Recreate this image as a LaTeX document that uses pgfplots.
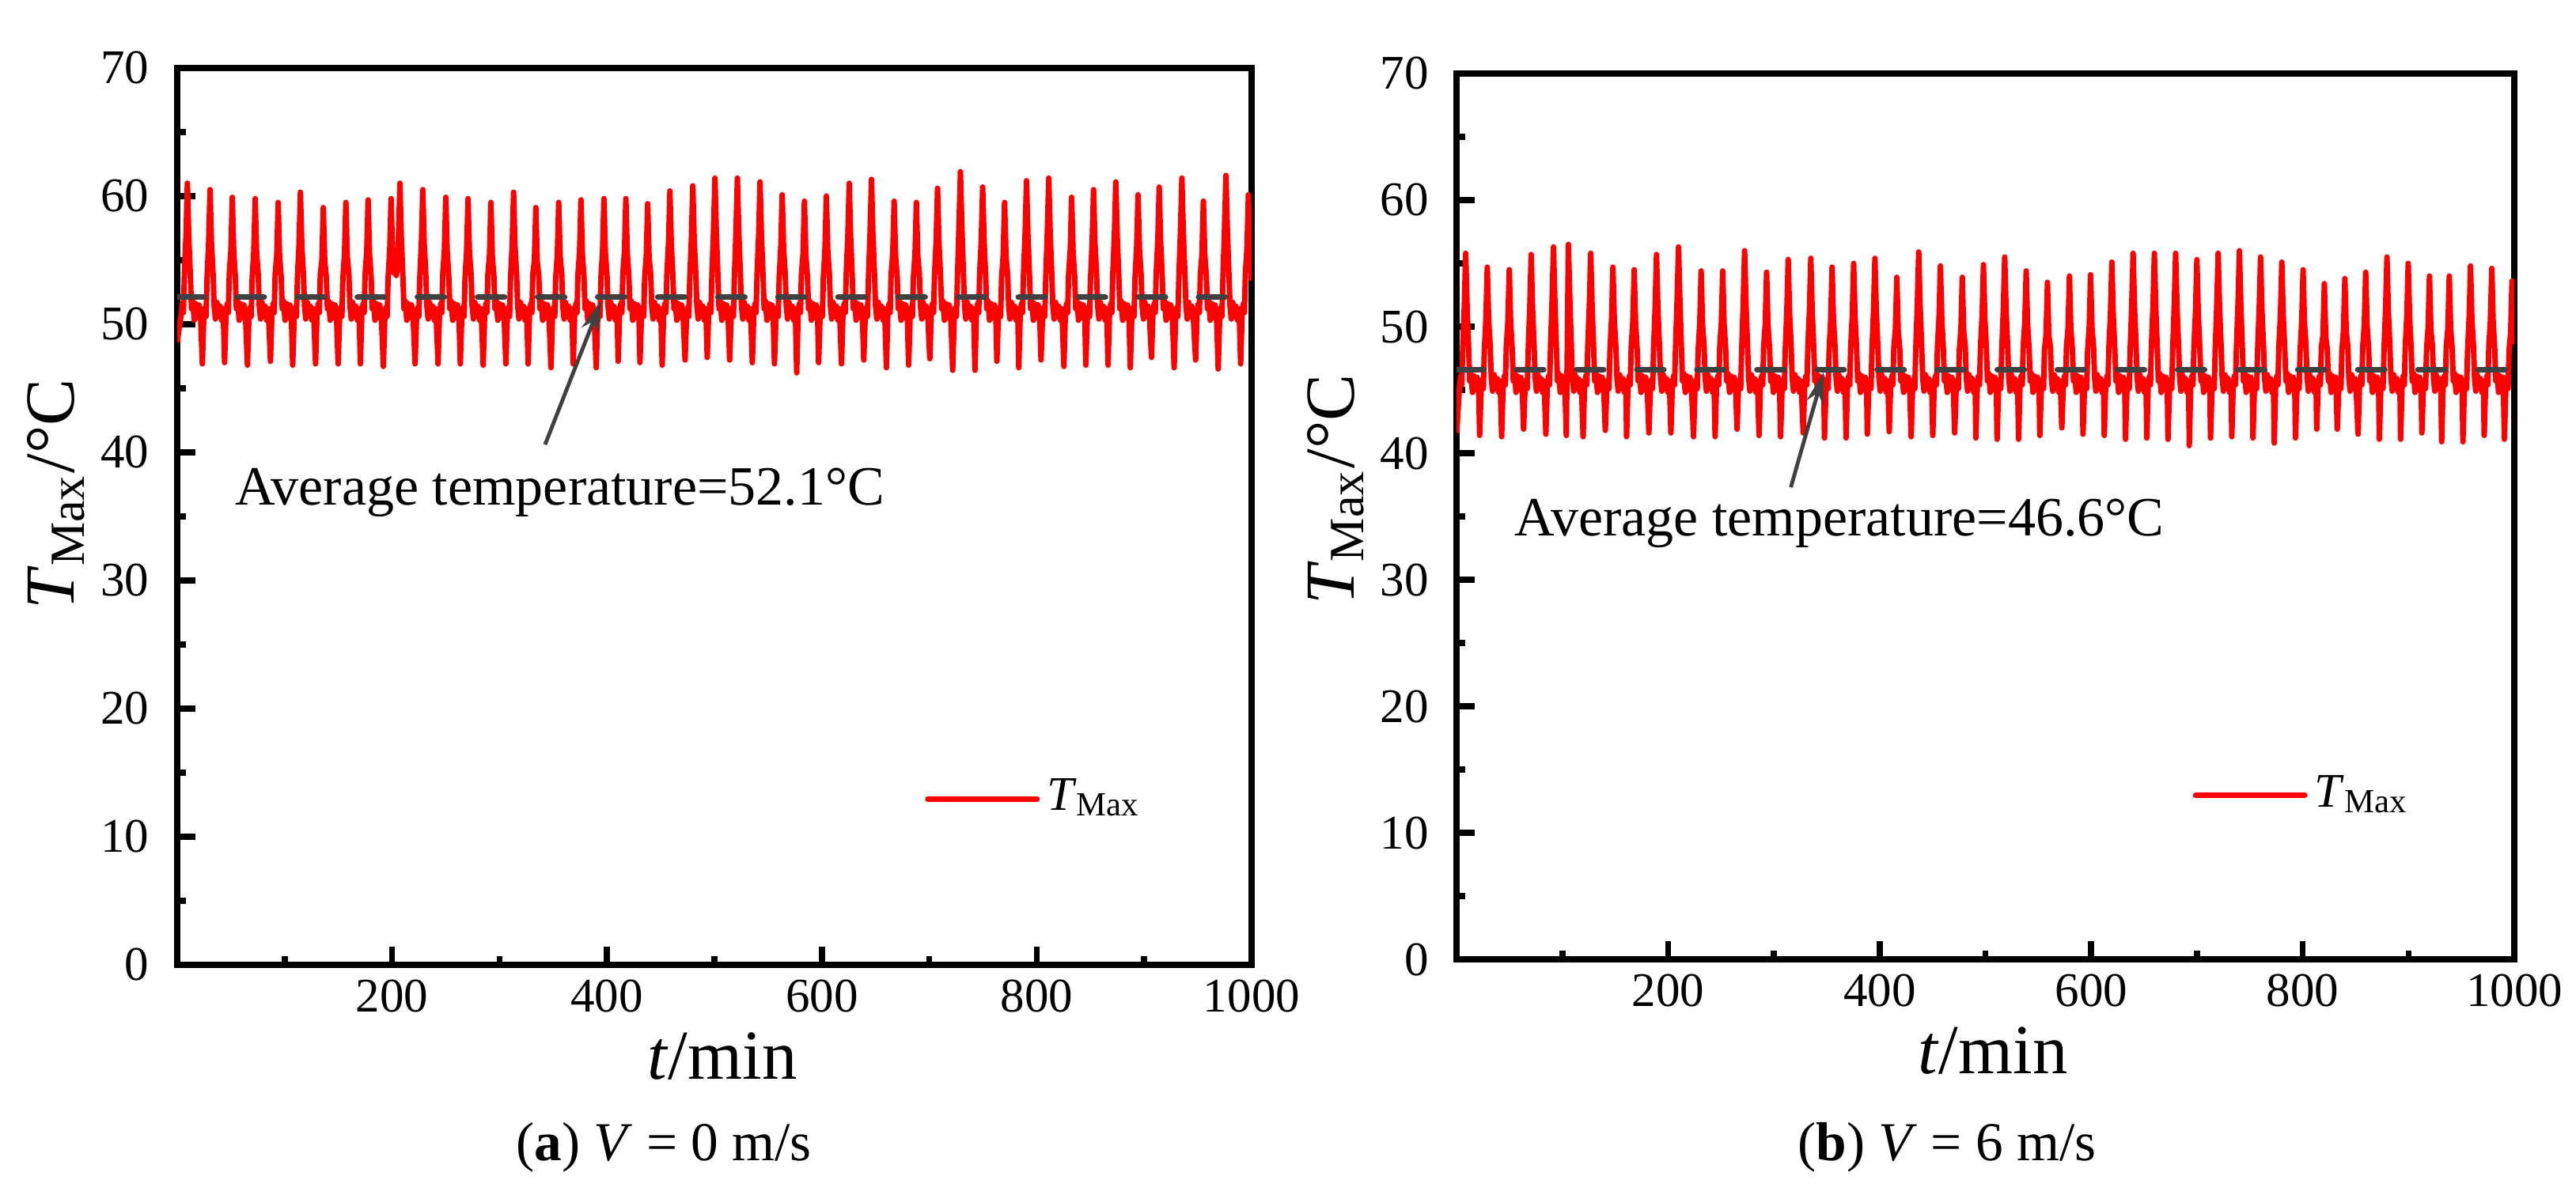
\documentclass[border=0pt]{standalone}
\usepackage{fontspec}
\setmainfont{Liberation Serif}
\usepackage{pgfplots}
\pgfplotsset{compat=1.18}
\usetikzlibrary{arrows.meta}
\definecolor{avgray}{RGB}{64,64,64}
\newcommand{\tickfont}{\fontsize{8.8}{10}\selectfont}
\newcommand{\annfont}{\fontsize{10.1}{12}\selectfont}
\newcommand{\labfont}{\fontsize{12.8}{15}\selectfont}
\newcommand{\capfont}{\fontsize{10}{12}\selectfont}
\tikzset{
 tline/.style={color=red, line width=1.0pt, line join=round},
 avline/.style={color=avgray, line width=1.05pt, line cap=round, dash pattern=on 4.9pt off 6.05pt},
 annarrow/.style={-{Stealth[length=5.8pt,width=3.2pt]}, color=avgray, line width=0.7pt},
}
\pgfplotsset{
 myax/.style={
  scale only axis, xmin=0, xmax=1000, ymin=0, ymax=70,
  xtick={200,400,600,800,1000}, minor xtick={100,300,500,700,900},
  ytick={0,10,...,70}, minor ytick={5,15,...,65},
  xtick pos=bottom, ytick pos=left, tick align=inside,
  major tick length=0.117cm, minor tick length=0.056cm,
  tick style={black, line width=1.1pt},
  axis line style={line width=1.15pt},
  tick label style={font=\tickfont},
  /pgf/number format/assume math mode=true,
  /pgf/number format/1000 sep={},
  yticklabel style={xshift=-1.6pt},
  xticklabel style={yshift=0.8pt},
  legend style={draw=none, fill=none, anchor=west, inner xsep=0pt, inner ysep=0pt,
    font=\tickfont, nodes={inner sep=1.3pt}},
  legend image code/.code={\draw[#1, line cap=round] (0cm,0cm) -- (0.70cm,0cm);},
 },
}
\begin{document}
\begin{tikzpicture}
\path[use as bounding box] (0,0) rectangle (16.5,7.652);
\begin{axis}[myax, at={(1.135cm,1.470cm)}, anchor=south west, width=6.882cm, height=5.747cm,
  legend style={at={(0.695,0.185)}}]
\addplot[tline] coordinates {
(0,48.6) (3.6,50.7) (4.8,51.6) (5.8,50.9) (6.7,53.9) (8.2,56.9) (9.5,61.0)
(10.8,56.8) (12.3,53.7) (13.3,51.2) (14.5,51.8) (15.9,50.3) (17.3,51.6) (18.8,50.5) (20.3,51.5) (21.7,50.8)
(23.4,46.9) (24.7,50.4) (25.9,51.3) (26.9,50.6) (27.8,53.6) (29.3,56.4) (30.6,60.5)
(31.9,56.3) (33.4,53.9) (34.4,51.4) (35.6,50.4) (37.0,51.7) (38.4,50.6) (39.9,51.4) (41.4,50.3) (42.8,51.2)
(44.1,47.0) (45.4,50.7) (46.6,51.6) (47.6,50.9) (48.5,53.9) (50.0,55.8) (51.3,59.9)
(52.6,55.7) (54.1,53.7) (55.1,51.2) (56.3,51.8) (57.7,50.3) (59.1,51.6) (60.6,50.5) (62.1,51.5) (63.5,50.8)
(65.4,46.8) (66.7,50.4) (67.9,51.3) (68.9,50.6) (69.8,53.6) (71.3,55.7) (72.6,59.8)
(73.9,55.6) (75.4,53.9) (76.4,51.4) (77.6,50.4) (79.0,51.7) (80.4,50.6) (81.9,51.4) (83.4,50.3) (84.8,51.2)
(86.8,47.1) (88.1,50.7) (89.3,51.6) (90.3,50.9) (91.2,53.9) (92.7,55.4) (94.0,59.5)
(95.3,55.3) (96.8,53.7) (97.8,51.2) (99.0,51.8) (100.4,50.3) (101.8,51.6) (103.3,50.5) (104.8,51.5) (106.2,50.8)
(107.5,46.8) (108.8,50.4) (110.0,51.3) (111.0,50.6) (111.9,53.6) (113.4,56.2) (114.7,60.3)
(116.0,56.1) (117.5,53.9) (118.5,51.4) (119.7,50.4) (121.1,51.7) (122.5,50.6) (124.0,51.4) (125.5,50.3) (126.9,51.2)
(128.8,46.9) (130.1,50.7) (131.3,51.6) (132.3,50.9) (133.2,53.9) (134.7,55.0) (136.0,59.1)
(137.3,54.9) (138.8,53.7) (139.8,51.2) (141.0,51.8) (142.4,50.3) (143.8,51.6) (145.3,50.5) (146.8,51.5) (148.2,50.8)
(149.8,46.9) (151.1,50.4) (152.3,51.3) (153.3,50.6) (154.2,53.6) (155.7,55.4) (157.0,59.5)
(158.3,55.3) (159.8,53.9) (160.8,51.4) (162.0,50.4) (163.4,51.7) (164.8,50.6) (166.3,51.4) (167.8,50.3) (169.2,51.2)
(170.5,46.9) (171.8,50.7) (173.0,51.6) (174.0,50.9) (174.9,53.9) (176.4,55.6) (177.7,59.7)
(179.0,55.5) (180.5,53.7) (181.5,51.2) (182.7,51.8) (184.1,50.3) (185.5,51.6) (187.0,50.5) (188.5,51.5) (189.9,50.8)
(191.9,46.7) (193.2,50.4) (194.4,51.3) (195.4,50.6) (196.3,53.6) (197.8,55.7) (199.1,59.8)
(200.4,55.6) (201.6,54.0) (202.8,54.6) (203.9,53.8) (205.0,54.4) (206.0,56.9) (207.3,61.0)
(208.6,56.8) (210.1,53.7) (211.1,51.2) (212.3,51.8) (213.7,50.3) (215.1,51.6) (216.6,50.5) (218.1,51.5) (219.5,50.8)
(221.4,46.9) (222.7,50.4) (223.9,51.3) (224.9,50.6) (225.8,53.6) (227.3,56.4) (228.6,60.5)
(229.9,56.3) (231.4,53.9) (232.4,51.4) (233.6,50.4) (235.0,51.7) (236.4,50.6) (237.9,51.4) (239.4,50.3) (240.8,51.2)
(242.8,46.9) (244.1,50.7) (245.3,51.6) (246.3,50.9) (247.2,53.9) (248.7,55.8) (250.0,59.9)
(251.3,55.7) (252.8,53.7) (253.8,51.2) (255.0,51.8) (256.4,50.3) (257.8,51.6) (259.3,50.5) (260.8,51.5) (262.2,50.8)
(263.5,46.9) (264.8,50.4) (266.0,51.3) (267.0,50.6) (267.9,53.6) (269.4,55.7) (270.7,59.8)
(272.0,55.6) (273.5,53.9) (274.5,51.4) (275.7,50.4) (277.1,51.7) (278.5,50.6) (280.0,51.4) (281.5,50.3) (282.9,51.2)
(284.8,46.8) (286.1,50.7) (287.3,51.6) (288.3,50.9) (289.2,53.9) (290.7,55.4) (292.0,59.5)
(293.3,55.3) (294.8,53.7) (295.8,51.2) (297.0,51.8) (298.4,50.3) (299.8,51.6) (301.3,50.5) (302.8,51.5) (304.2,50.8)
(305.9,46.9) (307.2,50.4) (308.4,51.3) (309.4,50.6) (310.3,53.6) (311.8,56.2) (313.1,60.3)
(314.4,56.1) (315.9,53.9) (316.9,51.4) (318.1,50.4) (319.5,51.7) (320.9,50.6) (322.4,51.4) (323.9,50.3) (325.3,51.2)
(326.6,46.9) (327.9,50.7) (329.1,51.6) (330.1,50.9) (331.0,53.9) (332.5,55.0) (333.8,59.1)
(335.1,54.9) (336.6,53.7) (337.6,51.2) (338.8,51.8) (340.2,50.3) (341.6,51.6) (343.1,50.5) (344.6,51.5) (346.0,50.8)
(347.9,46.6) (349.2,50.4) (350.4,51.3) (351.4,50.6) (352.3,53.6) (353.8,55.4) (355.1,59.5)
(356.4,55.3) (357.9,53.9) (358.9,51.4) (360.1,50.4) (361.5,51.7) (362.9,50.6) (364.4,51.4) (365.9,50.3) (367.3,51.2)
(368.6,46.9) (369.9,50.7) (371.1,51.6) (372.1,50.9) (373.0,53.9) (374.5,55.6) (375.8,59.7)
(377.1,55.5) (378.6,53.7) (379.6,51.2) (380.8,51.8) (382.2,50.3) (383.6,51.6) (385.1,50.5) (386.6,51.5) (388.0,50.8)
(390.0,46.6) (391.3,50.4) (392.5,51.3) (393.5,50.6) (394.4,53.6) (395.9,55.7) (397.2,59.8)
(398.5,55.6) (400.0,53.9) (401.0,51.4) (402.2,50.4) (403.6,51.7) (405.0,50.6) (406.5,51.4) (408.0,50.3) (409.4,51.2)
(410.4,47.1) (411.7,50.7) (412.9,51.6) (413.9,50.9) (414.8,53.9) (416.3,55.7) (417.6,59.8)
(418.9,55.6) (420.4,53.7) (421.4,51.2) (422.6,51.8) (424.0,50.3) (425.4,51.6) (426.9,50.5) (428.4,51.5) (429.8,50.8)
(430.7,47.0) (432.0,50.4) (433.2,51.3) (434.2,50.6) (435.1,53.6) (436.6,55.3) (437.9,59.4)
(439.2,55.2) (440.7,53.9) (441.7,51.4) (442.9,50.4) (444.3,51.7) (445.7,50.6) (447.2,51.4) (448.7,50.3) (450.1,51.2)
(451.4,46.8) (452.7,50.7) (453.9,51.6) (454.9,50.9) (455.8,53.9) (457.3,56.3) (458.6,60.4)
(459.9,56.2) (461.4,53.7) (462.4,51.2) (463.6,51.8) (465.0,50.3) (466.4,51.6) (467.9,50.5) (469.4,51.5) (470.8,50.8)
(472.7,47.2) (474.0,50.4) (475.2,51.3) (476.2,50.6) (477.1,53.6) (478.6,56.7) (479.9,60.8)
(481.2,56.6) (482.7,53.9) (483.7,51.4) (484.9,50.4) (486.3,51.7) (487.7,50.6) (489.2,51.4) (490.7,50.3) (492.1,51.2)
(493.3,47.4) (494.6,50.7) (495.8,51.6) (496.8,50.9) (497.7,53.9) (499.2,57.3) (500.5,61.4)
(501.8,57.2) (503.3,53.7) (504.3,51.2) (505.5,51.8) (506.9,50.3) (508.3,51.6) (509.8,50.5) (511.3,51.5) (512.7,50.8)
(514.2,47.2) (515.5,50.4) (516.7,51.3) (517.7,50.6) (518.6,53.6) (520.1,57.3) (521.4,61.4)
(522.7,57.2) (524.2,53.9) (525.2,51.4) (526.4,50.4) (527.8,51.7) (529.2,50.6) (530.7,51.4) (532.2,50.3) (533.6,51.2)
(535.3,47.0) (536.6,50.7) (537.8,51.6) (538.8,50.9) (539.7,53.9) (541.2,57.0) (542.5,61.1)
(543.8,56.9) (545.3,53.7) (546.3,51.2) (547.5,51.8) (548.9,50.3) (550.3,51.6) (551.8,50.5) (553.3,51.5) (554.7,50.8)
(555.9,46.9) (557.2,50.4) (558.4,51.3) (559.4,50.6) (560.3,53.6) (561.8,56.0) (563.1,60.1)
(564.4,55.9) (565.9,53.9) (566.9,51.4) (568.1,50.4) (569.5,51.7) (570.9,50.6) (572.4,51.4) (573.9,50.3) (575.3,51.2)
(576.6,46.2) (577.9,50.7) (579.1,51.6) (580.1,50.9) (581.0,53.9) (582.5,55.5) (583.8,59.6)
(585.1,55.4) (586.6,53.7) (587.6,51.2) (588.8,51.8) (590.2,50.3) (591.6,51.6) (593.1,50.5) (594.6,51.5) (596.0,50.8)
(597.0,47.0) (598.3,50.4) (599.5,51.3) (600.5,50.6) (601.4,53.6) (602.9,55.9) (604.2,60.0)
(605.5,55.8) (607.0,53.9) (608.0,51.4) (609.2,50.4) (610.6,51.7) (612.0,50.6) (613.5,51.4) (615.0,50.3) (616.4,51.2)
(618.3,46.9) (619.6,50.7) (620.8,51.6) (621.8,50.9) (622.7,53.9) (624.2,56.9) (625.5,61.0)
(626.8,56.8) (628.3,53.7) (629.3,51.2) (630.5,51.8) (631.9,50.3) (633.3,51.6) (634.8,50.5) (636.3,51.5) (637.7,50.8)
(639.0,47.2) (640.3,50.4) (641.5,51.3) (642.5,50.6) (643.4,53.6) (644.9,57.2) (646.2,61.3)
(647.5,57.1) (649.0,53.9) (650.0,51.4) (651.2,50.4) (652.6,51.7) (654.0,50.6) (655.5,51.4) (657.0,50.3) (658.4,51.2)
(660.1,46.6) (661.4,50.7) (662.6,51.6) (663.6,50.9) (664.5,53.9) (666.0,55.5) (667.3,59.6)
(668.6,55.4) (670.1,53.7) (671.1,51.2) (672.3,51.8) (673.7,50.3) (675.1,51.6) (676.6,50.5) (678.1,51.5) (679.5,50.8)
(680.8,46.8) (682.1,50.4) (683.3,51.3) (684.3,50.6) (685.2,53.6) (686.7,55.4) (688.0,59.5)
(689.3,55.3) (690.8,53.9) (691.8,51.4) (693.0,50.4) (694.4,51.7) (695.8,50.6) (697.3,51.4) (698.8,50.3)
(700.5,47.3) (701.8,50.7) (703.0,51.6) (704.0,50.9) (704.9,53.9) (706.4,56.5) (707.7,60.6)
(709.0,56.4) (710.5,53.7) (711.5,51.2) (712.7,51.8) (714.1,50.3) (715.5,51.6) (717.0,50.5) (718.5,51.5) (719.9,50.8)
(721.8,46.4) (723.1,50.4) (724.3,51.3) (725.3,50.6) (726.2,53.6) (727.7,57.8) (729.0,61.9)
(730.3,57.7) (731.8,53.9) (732.8,51.4) (734.0,50.4) (735.4,51.7) (736.8,50.6) (738.3,51.4) (739.8,50.3) (741.2,51.2)
(742.5,46.4) (743.8,50.7) (745.0,51.6) (746.0,50.9) (746.9,53.9) (748.4,56.6) (749.7,60.7)
(751.0,56.5) (752.5,53.7) (753.5,51.2) (754.7,51.8) (756.1,50.3) (757.5,51.6) (759.0,50.5) (760.5,51.5) (761.9,50.8)
(762.9,47.1) (764.2,50.4) (765.4,51.3) (766.4,50.6) (767.3,53.6) (768.8,55.4) (770.1,59.5)
(771.4,55.3) (772.9,53.9) (773.9,51.4) (775.1,50.4) (776.5,51.7) (777.9,50.6) (779.4,51.4) (780.9,50.3) (782.3,51.2)
(783.3,46.6) (784.6,50.7) (785.8,51.6) (786.8,50.9) (787.7,53.9) (789.2,57.1) (790.5,61.2)
(791.8,57.0) (793.3,53.7) (794.3,51.2) (795.5,51.8) (796.9,50.3) (798.3,51.6) (799.8,50.5) (801.3,51.5) (802.7,50.8)
(804.0,47.2) (805.3,50.4) (806.5,51.3) (807.5,50.6) (808.4,53.6) (809.9,57.3) (811.2,61.4)
(812.5,57.2) (814.0,53.9) (815.0,51.4) (816.2,50.4) (817.6,51.7) (819.0,50.6) (820.5,51.4) (822.0,50.3) (823.4,51.2)
(825.3,46.7) (826.6,50.7) (827.8,51.6) (828.8,50.9) (829.7,53.9) (831.2,55.8) (832.5,59.9)
(833.8,55.7) (835.3,53.7) (836.3,51.2) (837.5,51.8) (838.9,50.3) (840.3,51.6) (841.8,50.5) (843.3,51.5) (844.7,50.8)
(845.7,46.8) (847.0,50.4) (848.2,51.3) (849.2,50.6) (850.1,53.6) (851.6,56.4) (852.9,60.5)
(854.2,56.3) (855.7,53.9) (856.7,51.4) (857.9,50.4) (859.3,51.7) (860.7,50.6) (862.2,51.4) (863.7,50.3) (865.1,51.2)
(866.4,46.8) (867.7,50.7) (868.9,51.6) (869.9,50.9) (870.8,53.9) (872.3,57.0) (873.6,61.1)
(874.9,56.9) (876.4,53.7) (877.4,51.2) (878.6,51.8) (880.0,50.3) (881.4,51.6) (882.9,50.5) (884.4,51.5) (885.8,50.8)
(887.1,46.6) (888.4,50.4) (889.6,51.3) (890.6,50.6) (891.5,53.6) (893.0,56.0) (894.3,60.1)
(895.6,55.9) (897.1,53.9) (898.1,51.4) (899.3,50.4) (900.7,51.7) (902.1,50.6) (903.6,51.4) (905.1,50.3)
(906.8,47.4) (908.1,50.7) (909.3,51.6) (910.3,50.9) (911.2,53.9) (912.7,56.6) (914.0,60.7)
(915.3,56.5) (916.8,53.7) (917.8,51.2) (919.0,51.8) (920.4,50.3) (921.8,51.6) (923.3,50.5) (924.8,51.5) (926.2,50.8)
(927.9,46.6) (929.2,50.4) (930.4,51.3) (931.4,50.6) (932.3,53.6) (933.8,57.3) (935.1,61.4)
(936.4,57.2) (937.9,53.9) (938.9,51.4) (940.1,50.4) (941.5,51.7) (942.9,50.6) (944.4,51.4) (945.9,50.3)
(947.9,47.2) (949.2,50.7) (950.4,51.6) (951.4,50.9) (952.3,53.9) (953.8,55.5) (955.1,59.6)
(956.4,55.4) (957.9,53.7) (958.9,51.2) (960.1,51.8) (961.5,50.3) (962.9,51.6) (964.4,50.5) (965.9,51.5) (967.3,50.8)
(968.9,46.5) (970.2,50.4) (971.4,51.3) (972.4,50.6) (973.3,53.6) (974.8,57.5) (976.1,61.6)
(977.4,57.4) (978.9,53.9) (979.9,51.4) (981.1,50.4) (982.5,51.7) (983.9,50.6) (985.4,51.4) (986.9,50.3) (988.3,51.2)
(989.8,46.9) (991.1,50.7) (992.3,51.6) (993.3,50.9) (994.2,53.9) (995.7,56.0) (997.0,60.1)
(998.3,55.9) (1000,53.4)
};
\addlegendentry{\textit{T}\textsubscript{Max}}
\addplot[avline, forget plot] coordinates {(0,52.1) (1000,52.1)};
\draw[annarrow] (axis cs:342.4,40.6) -- (axis cs:394.7,51.8);
\node[anchor=base west, inner sep=0pt, font=\annfont] at (axis cs:53,35.9) {Average temperature=52.1°C};
\end{axis}

\begin{axis}[myax, at={(9.330cm,1.505cm)}, anchor=south west, width=6.775cm, height=5.676cm,
  legend style={at={(0.695,0.185)}}]
\addplot[tline] coordinates {
(0,41.6) (2.7,45.2) (3.9,46.1) (4.9,45.4) (5.8,48.4) (7.3,51.7) (8.6,55.8)
(9.9,51.6) (11.4,48.2) (12.4,45.7) (13.6,46.3) (15.0,44.8) (16.4,46.1) (17.9,45.0) (19.4,46.0) (20.8,45.3)
(21.8,41.4) (23.1,44.9) (24.3,45.8) (25.3,45.1) (26.2,48.1) (27.7,50.6) (29.0,54.7)
(30.3,50.5) (31.8,48.4) (32.8,45.9) (34.0,44.9) (35.4,46.2) (36.8,45.1) (38.3,45.9) (39.8,44.8) (41.2,45.7)
(42.6,41.3) (43.9,45.2) (45.1,46.1) (46.1,45.4) (47.0,48.4) (48.5,50.4) (49.8,54.5)
(51.1,50.3) (52.6,48.2) (53.6,45.7) (54.8,46.3) (56.2,44.8) (57.6,46.1) (59.1,45.0) (60.6,46.0) (62.0,45.3)
(63.3,41.9) (64.6,44.9) (65.8,45.8) (66.8,45.1) (67.7,48.1) (69.2,51.6) (70.5,55.7)
(71.8,51.5) (73.3,48.4) (74.3,45.9) (75.5,44.9) (76.9,46.2) (78.3,45.1) (79.8,45.9) (81.3,44.8) (82.7,45.7)
(84.4,41.5) (85.7,45.2) (86.9,46.1) (87.9,45.4) (88.8,48.4) (90.3,52.2) (91.6,56.3)
(92.9,52.1) (94.4,48.2) (95.4,45.7) (96.6,46.3) (98.0,44.8) (99.4,46.1) (100.9,45.0) (102.3,45.6) (103.7,41.4) (104.6,48.0) (105.0,51.5) (105.7,56.5)
(107.0,52.3) (108.5,48.4) (109.5,45.9) (110.7,44.9) (112.1,46.2) (113.5,45.1) (115.0,45.9) (116.5,44.8) (117.9,45.7)
(119.6,41.3) (120.9,45.2) (122.1,46.1) (123.1,45.4) (124.0,48.4) (125.5,51.7) (126.8,55.8)
(128.1,51.6) (129.6,48.2) (130.6,45.7) (131.8,46.3) (133.2,44.8) (134.6,46.1) (136.1,45.0) (137.6,46.0) (139.0,45.3)
(140.6,41.8) (141.9,44.9) (143.1,45.8) (144.1,45.1) (145.0,48.1) (146.5,50.6) (147.8,54.7)
(149.1,50.5) (150.6,48.4) (151.6,45.9) (152.8,44.9) (154.2,46.2) (155.6,45.1) (157.1,45.9) (158.6,44.8) (160.0,45.7)
(160.7,41.3) (162.0,45.2) (163.2,46.1) (164.2,45.4) (165.1,48.4) (166.6,50.4) (167.9,54.5)
(169.2,50.3) (170.7,48.2) (171.7,45.7) (172.9,46.3) (174.3,44.8) (175.7,46.1) (177.2,45.0) (178.7,46.0) (180.1,45.3)
(181.8,41.6) (183.1,44.9) (184.3,45.8) (185.3,45.1) (186.2,48.1) (187.7,51.6) (189.0,55.7)
(190.3,51.5) (191.8,48.4) (192.8,45.9) (194.0,44.9) (195.4,46.2) (196.8,45.1) (198.3,45.9) (199.8,44.8) (201.2,45.7)
(202.6,41.6) (203.9,45.2) (205.1,46.1) (206.1,45.4) (207.0,48.4) (208.5,52.2) (209.8,56.3)
(211.1,52.1) (212.6,48.2) (213.6,45.7) (214.8,46.3) (216.2,44.8) (217.6,46.1) (219.1,45.0) (220.6,46.0) (222.0,45.3)
(224.0,41.3) (225.3,44.9) (226.5,45.8) (227.5,45.1) (228.4,48.1) (229.9,50.3) (231.2,54.4)
(232.5,50.2) (234.0,48.4) (235.0,45.9) (236.2,44.9) (237.6,46.2) (239.0,45.1) (240.5,45.9) (242.0,44.8) (243.4,45.7)
(244.4,41.3) (245.7,45.2) (246.9,46.1) (247.9,45.4) (248.8,48.4) (250.3,50.3) (251.6,54.4)
(252.9,50.2) (254.4,48.2) (255.4,45.7) (256.6,46.3) (258.0,44.8) (259.4,46.1) (260.9,45.0) (262.4,46.0) (263.8,45.3)
(265.1,41.9) (266.4,44.9) (267.6,45.8) (268.6,45.1) (269.5,48.1) (271.0,51.9) (272.3,56.0)
(273.6,51.8) (275.1,48.4) (276.1,45.9) (277.3,44.9) (278.7,46.2) (280.1,45.1) (281.6,45.9) (283.1,44.8) (284.5,45.7)
(285.9,41.4) (287.2,45.2) (288.4,46.1) (289.4,45.4) (290.3,48.4) (291.8,50.2) (293.1,54.3)
(294.4,50.1) (295.9,48.2) (296.9,45.7) (298.1,46.3) (299.5,44.8) (300.9,46.1) (302.4,45.0) (303.9,46.0) (305.3,45.3)
(306.3,41.3) (307.6,44.9) (308.8,45.8) (309.8,45.1) (310.7,48.1) (312.2,51.2) (313.5,55.3)
(314.8,51.1) (316.3,48.4) (317.3,45.9) (318.5,44.9) (319.9,46.2) (321.3,45.1) (322.8,45.9) (324.3,44.8) (325.7,45.7)
(327.7,41.6) (329.0,45.2) (330.2,46.1) (331.2,45.4) (332.1,48.4) (333.6,51.3) (334.9,55.4)
(336.2,51.2) (337.7,48.2) (338.7,45.7) (339.9,46.3) (341.3,44.8) (342.7,46.1) (344.2,45.0) (345.7,46.0) (347.1,45.3)
(347.8,41.2) (349.1,44.9) (350.3,45.8) (351.3,45.1) (352.2,48.1) (353.7,50.6) (355.0,54.7)
(356.3,50.5) (357.8,48.4) (358.8,45.9) (360.0,44.9) (361.4,46.2) (362.8,45.1) (364.3,45.9) (365.8,44.8) (367.2,45.7)
(368.2,41.2) (369.5,45.2) (370.7,46.1) (371.7,45.4) (372.6,48.4) (374.1,50.9) (375.4,55.0)
(376.7,50.8) (378.2,48.2) (379.2,45.7) (380.4,46.3) (381.8,44.8) (383.2,46.1) (384.7,45.0) (386.2,46.0) (387.6,45.3)
(388.3,41.5) (389.6,44.9) (390.8,45.8) (391.8,45.1) (392.7,48.1) (394.2,51.3) (395.5,55.4)
(396.8,51.2) (398.3,48.4) (399.3,45.9) (400.5,44.9) (401.9,46.2) (403.3,45.1) (404.8,45.9) (406.3,44.8) (407.7,45.7)
(409.0,41.7) (410.3,45.2) (411.5,46.1) (412.5,45.4) (413.4,48.4) (414.9,49.8) (416.2,53.9)
(417.5,49.7) (419.0,48.2) (420.0,45.7) (421.2,46.3) (422.6,44.8) (424.0,46.1) (425.5,45.0) (427.0,46.0) (428.4,45.3)
(429.7,41.3) (431.0,44.9) (432.2,45.8) (433.2,45.1) (434.1,48.1) (435.6,51.8) (436.9,55.9)
(438.2,51.7) (439.7,48.4) (440.7,45.9) (441.9,44.9) (443.3,46.2) (444.7,45.1) (446.2,45.9) (447.7,44.8) (449.1,45.7)
(450.2,41.4) (451.5,45.2) (452.7,46.1) (453.7,45.4) (454.6,48.4) (456.1,50.7) (457.4,54.8)
(458.7,50.6) (460.2,48.2) (461.2,45.7) (462.4,46.3) (463.8,44.8) (465.2,46.1) (466.7,45.0) (468.2,46.0) (469.6,45.3)
(470.9,41.6) (472.2,44.9) (473.4,45.8) (474.4,45.1) (475.3,48.1) (476.8,49.8) (478.1,53.9)
(479.4,49.7) (480.9,48.4) (481.9,45.9) (483.1,44.9) (484.5,46.2) (485.9,45.1) (487.4,45.9) (488.9,44.8) (490.3,45.7)
(490.9,41.2) (492.2,45.2) (493.4,46.1) (494.4,45.4) (495.3,48.4) (496.8,50.8) (498.1,54.9)
(499.4,50.7) (500.9,48.2) (501.9,45.7) (503.1,46.3) (504.5,44.8) (505.9,46.1) (507.4,45.0) (508.9,46.0) (510.3,45.3)
(511.0,41.1) (512.3,44.9) (513.5,45.8) (514.5,45.1) (515.4,48.1) (516.9,51.4) (518.2,55.5)
(519.5,51.3) (521.0,48.4) (522.0,45.9) (523.2,44.9) (524.6,46.2) (526.0,45.1) (527.5,45.9) (529.0,44.8) (530.4,45.7)
(531.3,41.1) (532.6,45.2) (533.8,46.1) (534.8,45.4) (535.7,48.4) (537.2,50.3) (538.5,54.4)
(539.8,50.2) (541.3,48.2) (542.3,45.7) (543.5,46.3) (544.9,44.8) (546.3,46.1) (547.8,45.0) (549.3,46.0) (550.7,45.3)
(551.4,41.4) (552.7,44.9) (553.9,45.8) (554.9,45.1) (555.8,48.1) (557.3,49.4) (558.6,53.5)
(559.9,49.3) (561.4,48.4) (562.4,45.9) (563.6,44.9) (565.0,46.2) (566.4,45.1) (567.9,45.9) (569.4,44.8) (570.8,45.7)
(572.2,42.0) (573.5,45.2) (574.7,46.1) (575.7,45.4) (576.6,48.4) (578.1,49.9) (579.4,54.0)
(580.7,49.8) (582.2,48.2) (583.2,45.7) (584.4,46.3) (585.8,44.8) (587.2,46.1) (588.7,45.0) (590.2,46.0) (591.6,45.3)
(592.2,41.5) (593.5,44.9) (594.7,45.8) (595.7,45.1) (596.6,48.1) (598.1,50.0) (599.4,54.1)
(600.7,49.9) (602.2,48.4) (603.2,45.9) (604.4,44.9) (605.8,46.2) (607.2,45.1) (608.7,45.9) (610.2,44.8) (611.6,45.7)
(612.3,41.4) (613.6,45.2) (614.8,46.1) (615.8,45.4) (616.7,48.4) (618.2,51.0) (619.5,55.1)
(620.8,50.9) (622.3,48.2) (623.3,45.7) (624.5,46.3) (625.9,44.8) (627.3,46.1) (628.8,45.0) (630.3,46.0) (631.7,45.3)
(632.4,41.1) (633.7,44.9) (634.9,45.8) (635.9,45.1) (636.8,48.1) (638.3,51.7) (639.6,55.8)
(640.9,51.6) (642.4,48.4) (643.4,45.9) (644.6,44.9) (646.0,46.2) (647.4,45.1) (648.9,45.9) (650.4,44.8) (651.8,45.7)
(652.5,41.2) (653.8,45.2) (655.0,46.1) (656.0,45.4) (656.9,48.4) (658.4,51.7) (659.7,55.8)
(661.0,51.6) (662.5,48.2) (663.5,45.7) (664.7,46.3) (666.1,44.8) (667.5,46.1) (669.0,45.0) (670.5,46.0) (671.9,45.3)
(672.6,41.1) (673.9,44.9) (675.1,45.8) (676.1,45.1) (677.0,48.1) (678.5,51.7) (679.8,55.8)
(681.1,51.6) (682.6,48.4) (683.6,45.9) (684.8,44.9) (686.2,46.2) (687.6,45.1) (689.1,45.9) (690.6,44.8) (692.0,45.7)
(692.7,40.6) (694.0,45.2) (695.2,46.1) (696.2,45.4) (697.1,48.4) (698.6,51.2) (699.9,55.3)
(701.2,51.1) (702.7,48.2) (703.7,45.7) (704.9,46.3) (706.3,44.8) (707.7,46.1) (709.2,45.0) (710.7,46.0) (712.1,45.3)
(712.8,41.2) (714.1,44.9) (715.3,45.8) (716.3,45.1) (717.2,48.1) (718.7,51.7) (720.0,55.8)
(721.3,51.6) (722.8,48.4) (723.8,45.9) (725.0,44.9) (726.4,46.2) (727.8,45.1) (729.3,45.9) (730.8,44.8) (732.2,45.7)
(732.9,41.3) (734.2,45.2) (735.4,46.1) (736.4,45.4) (737.3,48.4) (738.8,51.9) (740.1,56.0)
(741.4,51.8) (742.9,48.2) (743.9,45.7) (745.1,46.3) (746.5,44.8) (747.9,46.1) (749.4,45.0) (750.9,46.0) (752.3,45.3)
(752.9,41.2) (754.2,44.9) (755.4,45.8) (756.4,45.1) (757.3,48.1) (758.8,51.4) (760.1,55.5)
(761.4,51.3) (762.9,48.4) (763.9,45.9) (765.1,44.9) (766.5,46.2) (767.9,45.1) (769.4,45.9) (770.9,44.8) (772.3,45.7)
(773.0,40.8) (774.3,45.2) (775.5,46.1) (776.5,45.4) (777.4,48.4) (778.9,51.0) (780.2,55.1)
(781.5,50.9) (783.0,48.2) (784.0,45.7) (785.2,46.3) (786.6,44.8) (788.0,46.1) (789.5,45.0) (791.0,46.0) (792.4,45.3)
(793.1,41.2) (794.4,44.9) (795.6,45.8) (796.6,45.1) (797.5,48.1) (799.0,50.4) (800.3,54.5)
(801.6,50.3) (803.1,48.4) (804.1,45.9) (805.3,44.9) (806.7,46.2) (808.1,45.1) (809.6,45.9) (811.1,44.8) (812.5,45.7)
(813.2,41.9) (814.5,45.2) (815.7,46.1) (816.7,45.4) (817.6,48.4) (819.1,49.3) (820.4,53.4)
(821.7,49.2) (823.2,48.2) (824.2,45.7) (825.4,46.3) (826.8,44.8) (828.2,46.1) (829.7,45.0) (831.2,46.0)
(832.6,41.9) (833.9,44.9) (835.1,45.8) (836.1,45.1) (837.0,48.1) (838.5,49.7) (839.8,53.8)
(841.1,49.6) (842.6,48.4) (843.6,45.9) (844.8,44.9) (846.2,46.2) (847.6,45.1) (849.1,45.9) (850.6,44.8)
(852.3,41.5) (853.6,45.2) (854.8,46.1) (855.8,45.4) (856.7,48.4) (858.2,50.2) (859.5,54.3)
(860.8,50.1) (862.3,48.2) (863.3,45.7) (864.5,46.3) (865.9,44.8) (867.3,46.1) (868.8,45.0) (870.3,46.0) (871.7,45.3)
(872.4,41.1) (873.7,44.9) (874.9,45.8) (875.9,45.1) (876.8,48.1) (878.3,51.4) (879.6,55.5)
(880.9,51.3) (882.4,48.4) (883.4,45.9) (884.6,44.9) (886.0,46.2) (887.4,45.1) (888.9,45.9) (890.4,44.8) (891.8,45.7)
(892.5,41.1) (893.8,45.2) (895.0,46.1) (896.0,45.4) (896.9,48.4) (898.4,50.9) (899.7,55.0)
(901.0,50.8) (902.5,48.2) (903.5,45.7) (904.7,46.3) (906.1,44.8) (907.5,46.1) (909.0,45.0) (910.5,46.0) (911.9,45.3)
(912.6,41.6) (913.9,44.9) (915.1,45.8) (916.1,45.1) (917.0,48.1) (918.5,49.9) (919.8,54.0)
(921.1,49.8) (922.6,48.4) (923.6,45.9) (924.8,44.9) (926.2,46.2) (927.6,45.1) (929.1,45.9) (930.6,44.8)
(931.3,40.9) (932.6,45.2) (933.8,46.1) (934.8,45.4) (935.7,48.4) (937.2,49.9) (938.5,54.0)
(939.8,49.8) (941.3,48.2) (942.3,45.7) (943.5,46.3) (944.9,44.8) (946.3,46.1) (947.8,45.0) (949.3,46.0) (950.7,45.3)
(951.4,40.9) (952.7,44.9) (953.9,45.8) (954.9,45.1) (955.8,48.1) (957.3,50.7) (958.6,54.8)
(959.9,50.6) (961.4,48.4) (962.4,45.9) (963.6,44.9) (965.0,46.2) (966.4,45.1) (967.9,45.9) (969.4,44.8) (970.8,45.7)
(971.5,41.4) (972.8,45.2) (974.0,46.1) (975.0,45.4) (975.9,48.4) (977.4,50.5) (978.7,54.6)
(980.0,50.4) (981.5,48.2) (982.5,45.7) (983.7,46.3) (985.1,44.8) (986.5,46.1) (988.0,45.0) (989.5,46.0)
(990.6,41.1) (991.9,44.9) (993.1,45.8) (994.1,45.1) (995.0,48.1) (996.5,49.5) (997.8,53.6) (999.1,49.4) (1000,48.6)
};
\addlegendentry{\textit{T}\textsubscript{Max}}
\addplot[avline, forget plot] coordinates {(0,46.6) (1000,46.6)};
\draw[annarrow] (axis cs:316,37.3) -- (axis cs:347,46.4);
\node[anchor=base west, inner sep=0pt, font=\annfont] at (axis cs:54,33.5) {Average temperature=46.6°C};
\end{axis}

\node[rotate=90, anchor=base west, inner sep=0pt, font=\labfont] at (0.476,3.740) {\textit{T}\textsubscript{Max}/°C};
\node[rotate=90, anchor=base west, inner sep=0pt, font=\labfont] at (8.671,3.770) {\textit{T}\textsubscript{Max}/°C};
\node[anchor=base, inner sep=0pt, font=\labfont] at (4.627,0.735) {\textit{t}/min};
\node[anchor=base, inner sep=0pt, font=\labfont] at (12.765,0.775) {\textit{t}/min};
\node[anchor=base west, inner sep=0pt, font=\capfont] at (3.300,0.213) {(\textbf{a}) \textit{V} = 0 m/s};
\node[anchor=base east, inner sep=0pt, font=\capfont] at (13.434,0.213) {(\textbf{b}) \textit{V} = 6 m/s};
\end{tikzpicture}
\end{document}
